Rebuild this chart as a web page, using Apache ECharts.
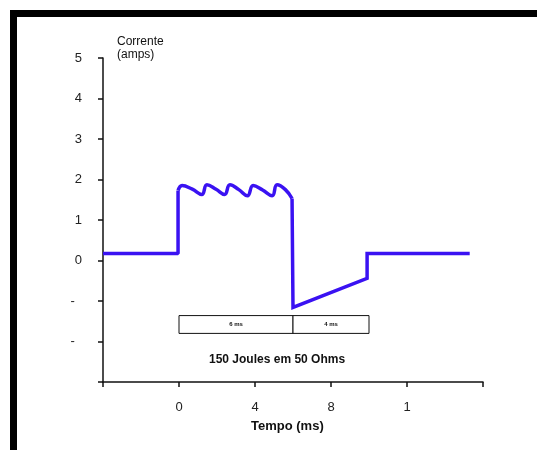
<!DOCTYPE html>
<html>
<head>
<meta charset="utf-8">
<script src="https://cdn.jsdelivr.net/npm/echarts@6/dist/echarts.min.js"></script>
<style>
  html, body { margin: 0; padding: 0; background: #fff; }
  #chart { width: 537px; height: 450px; }
</style>
</head>
<body>
<div id="chart"></div>
<script>
  // forma de onda: tempo (ms) e corrente (amps)
  var tempoA = [-4, -0.05, -0.05]
  var correnteA = [0.17, 0.17, 1.73]

  // ondulacao do topo
  var tempoOnda = [-0.05, 0.16, 0.7, 1.2, 1.47, 1.95, 2.4, 2.68, 3.15, 3.6, 3.9, 4.4, 4.9, 5.16, 5.6, 5.95]
  var correnteOnda = [1.73, 1.85, 1.76, 1.63, 1.87, 1.76, 1.63, 1.87, 1.75, 1.6, 1.85, 1.74, 1.6, 1.87, 1.75, 1.53]

  var tempoB = [5.95, 6.0, 9.9, 9.9, 15.3]
  var correnteB = [1.53, -1.16, -0.44, 0.17, 0.17]

  // caixa de duracao das fases
  var fases = [0, 6, 10]
  var rotulosFases = ['6 ms', '4 ms']
  var caixaTopo = -1.36
  var caixaBase = -1.8

  // rotulos dos eixos (cortados no original)
  var xTicks = [-4, 0, 4, 8, 12, 16]
  var xLabels = ['', '0', '4', '8', '1', '']
  var yTicks = [-3, -2, -1, 0, 1, 2, 3, 4, 5]
  var yLabels = ['', '-\u2007', '-\u2007', '0', '1', '2', '3', '4', '5']

  var azul = '#3a12f2'

  function zip(xs, ys) {
    return xs.map(function (x, i) { return [x, ys[i]] })
  }

  var areas = rotulosFases.map(function (r, i) {
    return [
      {name: r, coord: [fases[i], caixaTopo]},
      {coord: [fases[i + 1], caixaBase]}
    ]
  })

  var chart = echarts.init(document.getElementById('chart'))
  chart.setOption({
    animation: false,
    textStyle: {fontFamily: 'Liberation Sans, Arial, sans-serif'},
    grid: {left: 103, right: 54, top: 58, bottom: 68},
    xAxis: {
      type: 'value',
      min: -4,
      max: 16,
      interval: 4,
      axisLine: {onZero: false, lineStyle: {color: '#111', width: 1.5}},
      axisTick: {length: 5, lineStyle: {color: '#111', width: 1.5}},
      axisLabel: {
        margin: 19,
        fontSize: 13,
        color: '#222',
        formatter: function (v) {
          var i = xTicks.indexOf(v)
          return i >= 0 ? xLabels[i] : ''
        }
      },
      splitLine: {show: false}
    },
    yAxis: {
      type: 'value',
      min: -3,
      max: 5,
      interval: 1,
      axisLine: {show: true, onZero: false, lineStyle: {color: '#111', width: 1.5}},
      axisTick: {show: true, length: 5, lineStyle: {color: '#111', width: 1.5}},
      axisLabel: {
        margin: 21,
        fontSize: 13,
        color: '#222',
        formatter: function (v) {
          var i = yTicks.indexOf(v)
          return i >= 0 ? yLabels[i] : ''
        }
      },
      splitLine: {show: false}
    },
    graphic: [
      {type: 'rect', left: 10, top: 10, shape: {width: 527, height: 7}, style: {fill: '#000'}},
      {type: 'rect', left: 10, top: 10, shape: {width: 7, height: 440}, style: {fill: '#000'}},
      {
        type: 'text', left: 117, top: 35,
        style: {text: 'Corrente\n(amps)', fontSize: 12, lineHeight: 13, fill: '#111', fontFamily: 'Liberation Sans'}
      },
      {
        type: 'text', left: 209, top: 354,
        style: {text: '150 Joules em 50 Ohms', fontSize: 12, fontWeight: 'bold', fill: '#111', fontFamily: 'Liberation Sans'}
      },
      {
        type: 'text', left: 251, top: 420,
        style: {text: 'Tempo (ms)', fontSize: 13, fontWeight: 'bold', fill: '#111', fontFamily: 'Liberation Sans'}
      }
    ],
    series: [
      {
        type: 'line',
        data: zip(tempoA, correnteA),
        showSymbol: false,
        lineStyle: {color: azul, width: 3.5},
        markArea: {
          silent: true,
          itemStyle: {color: '#fff', borderColor: '#111', borderWidth: 1},
          label: {position: 'inside', fontSize: 6, fontWeight: 'bold', color: '#111'},
          data: areas
        },
        z: 3
      },
      {
        type: 'line',
        data: zip(tempoOnda, correnteOnda),
        smooth: 0.45,
        showSymbol: false,
        lineStyle: {color: azul, width: 3.5},
        z: 3
      },
      {
        type: 'line',
        data: zip(tempoB, correnteB),
        showSymbol: false,
        lineStyle: {color: azul, width: 3.5, join: 'miter'},
        z: 3
      }
    ]
  })
</script>
</body>
</html>
